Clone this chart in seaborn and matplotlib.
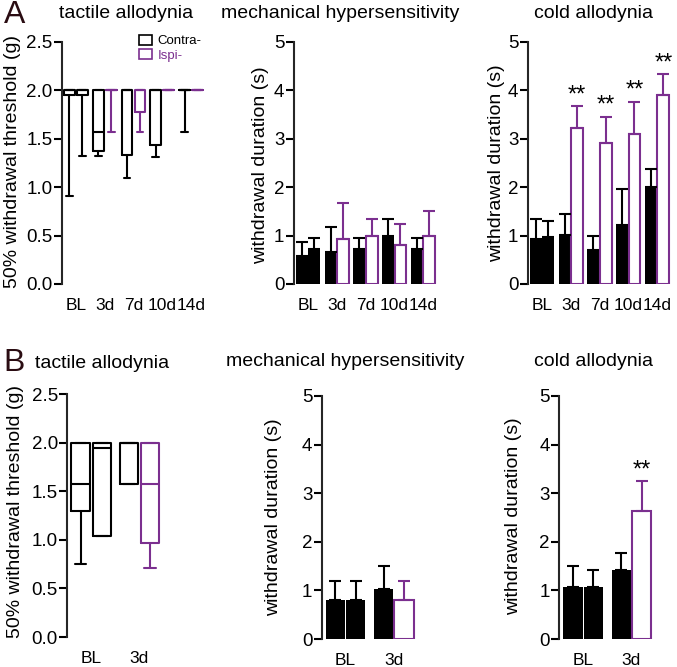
import matplotlib
matplotlib.use("Agg")
import matplotlib.pyplot as plt
import pandas as pd
import seaborn as sns
from matplotlib.patches import Patch

times_a = ["BL", "3d", "7d", "10d", "14d"]
times_b = ["BL", "3d"]
sides = ["Contra-", "Ispi-"]

# tactile allodynia, 50% withdrawal threshold (g): whisker low, Q1, median, Q3
tact_a_contra_lo = [0.91, 1.32, 1.10, 1.31, 1.57]
tact_a_contra_q1 = [1.95, 1.37, 1.33, 1.44, 2.00]
tact_a_contra_med = [2.00, 1.57, 2.00, 2.00, 2.00]
tact_a_contra_q3 = [2.00, 2.00, 2.00, 2.00, 2.00]
tact_a_ipsi_lo = [1.32, 1.57, 1.57, 2.00, 2.00]
tact_a_ipsi_q1 = [1.95, 2.00, 1.78, 2.00, 2.00]
tact_a_ipsi_med = [2.00, 2.00, 2.00, 2.00, 2.00]
tact_a_ipsi_q3 = [2.00, 2.00, 2.00, 2.00, 2.00]

tact_b_contra_lo = [0.75, 1.57]
tact_b_contra_q1 = [1.30, 1.57]
tact_b_contra_med = [1.57, 2.00]
tact_b_contra_q3 = [2.00, 2.00]
tact_b_ipsi_lo = [1.04, 0.71]
tact_b_ipsi_q1 = [1.04, 0.97]
tact_b_ipsi_med = [1.94, 1.57]
tact_b_ipsi_q3 = [2.00, 2.00]

# withdrawal duration (s): mean and SEM
mech_a_contra = [0.58, 0.67, 0.72, 1.00, 0.72]
mech_a_contra_sem = [0.29, 0.50, 0.24, 0.35, 0.24]
mech_a_ipsi = [0.72, 0.94, 1.00, 0.80, 1.00]
mech_a_ipsi_sem = [0.24, 0.74, 0.35, 0.45, 0.51]

cold_a_contra = [0.93, 1.02, 0.71, 1.22, 2.01]
cold_a_contra_sem = [0.41, 0.42, 0.28, 0.74, 0.36]
cold_a_ipsi = [0.97, 3.23, 2.91, 3.10, 3.91]
cold_a_ipsi_sem = [0.34, 0.44, 0.54, 0.66, 0.42]
cold_a_stars = ["", "**", "**", "**", "**"]

mech_b_contra = [0.80, 1.02]
mech_b_contra_sem = [0.39, 0.48]
mech_b_ipsi = [0.80, 0.80]
mech_b_ipsi_sem = [0.39, 0.39]

cold_b_contra = [1.08, 1.43]
cold_b_contra_sem = [0.42, 0.33]
cold_b_ipsi = [1.08, 2.63]
cold_b_ipsi_sem = [0.33, 0.62]
cold_b_stars = ["", "**"]

BLACK = "#000000"
PURPLE = "#7b2f8f"
LW = 1.5
W, H = 677, 667

sns.set_style("ticks")
plt.rcParams["font.family"] = ["Liberation Sans", "DejaVu Sans"]
plt.rcParams["text.color"] = "black"
plt.rcParams["axes.labelcolor"] = "black"
plt.rcParams["xtick.color"] = "black"
plt.rcParams["ytick.color"] = "black"


def rect(left, top, right, bottom):
    return [left / W, 1 - bottom / H, (right - left) / W, (bottom - top) / H]


def style_axis(ax, times, ymax, step, fmt):
    ax.set_xlim(-0.5, len(times) - 0.5)
    ax.set_ylim(0, ymax)
    ax.set_xticks(range(len(times)))
    ax.set_xticklabels(times)
    ticks = [i * step for i in range(int(round(ymax / step)) + 1)]
    ax.set_yticks(ticks)
    ax.set_yticklabels([fmt.format(t) for t in ticks])
    for s in ["top", "right", "bottom"]:
        ax.spines[s].set_visible(False)
    ax.spines["left"].set_linewidth(LW)
    ax.tick_params(axis="x", length=0, pad=10, labelsize=12.5)
    ax.tick_params(axis="y", length=5.5, width=LW, pad=1, labelsize=13.5)
    ax.set_xlabel("")
    ax.set_ylabel("")


def draw_boxes(ax, times, contra, ipsi, offset, width):
    for side_i, (lo, q1, med, q3) in enumerate([contra, ipsi]):
        for i, t in enumerate(times):
            color = BLACK if side_i == 0 or t == "BL" else PURPLE
            stats = dict(whislo=lo[i], q1=q1[i], med=med[i], q3=q3[i], whishi=q3[i])
            pos = i + (offset if side_i else -offset)
            line = dict(color=color, linewidth=LW)
            ax.bxp([stats], positions=[pos], widths=width, capwidths=0.24,
                   showfliers=False, manage_ticks=False, boxprops=line,
                   medianprops=line, whiskerprops=line, capprops=line)


def draw_bars(ax, times, contra, contra_sem, ipsi, ipsi_sem, width, stars=None):
    n = len(times)
    df = pd.DataFrame({
        "time": times * 2,
        "side": [sides[0]] * n + [sides[1]] * n,
        "value": contra + ipsi,
    })
    sns.barplot(data=df, x="time", y="value", hue="side", order=times,
                hue_order=sides, errorbar=None, width=width, gap=0.05,
                palette=[BLACK, PURPLE], saturation=1, legend=False, ax=ax)
    for side_i, (bars, vals, sems) in enumerate(
            zip(ax.containers, [contra, ipsi], [contra_sem, ipsi_sem])):
        for i, bar in enumerate(bars):
            open_bar = side_i == 1 and times[i] != "BL"
            color = PURPLE if open_bar else BLACK
            if open_bar:
                bar.set_facecolor("white")
                bar.set_edgecolor(PURPLE)
                bar.set_linewidth(LW)
            else:
                bar.set_facecolor(BLACK)
                bar.set_edgecolor("none")
            x = bar.get_x() + bar.get_width() / 2
            ax.errorbar(x, vals[i], yerr=[[0], [sems[i]]], fmt="none",
                        ecolor=color, elinewidth=LW, capsize=4, capthick=LW,
                        zorder=3)
            if stars and side_i == 1 and stars[i]:
                ax.annotate(stars[i], xy=(x, vals[i] + sems[i]), xytext=(0, 0),
                            textcoords="offset points", ha="center",
                            va="bottom", fontsize=17)


fig = plt.figure(figsize=(W / 100, H / 100), dpi=100)

ax_ta = fig.add_axes(rect(61.5, 42, 205.5, 284))
ax_ma = fig.add_axes(rect(293.5, 42, 437.5, 284))
ax_ca = fig.add_axes(rect(527.5, 42, 671.5, 284))
ax_tb = fig.add_axes(rect(67, 394, 163.6, 637))
ax_mb = fig.add_axes(rect(321.5, 396, 418, 639))
ax_cb = fig.add_axes(rect(559, 396, 655.5, 639))

draw_boxes(ax_ta, times_a,
           (tact_a_contra_lo, tact_a_contra_q1, tact_a_contra_med, tact_a_contra_q3),
           (tact_a_ipsi_lo, tact_a_ipsi_q1, tact_a_ipsi_med, tact_a_ipsi_q3),
           0.225, 0.38)
style_axis(ax_ta, times_a, 2.5, 0.5, "{:.1f}")

draw_boxes(ax_tb, times_b,
           (tact_b_contra_lo, tact_b_contra_q1, tact_b_contra_med, tact_b_contra_q3),
           (tact_b_ipsi_lo, tact_b_ipsi_q1, tact_b_ipsi_med, tact_b_ipsi_q3),
           0.22, 0.38)
style_axis(ax_tb, times_b, 2.5, 0.5, "{:.1f}")

draw_bars(ax_ma, times_a, mech_a_contra, mech_a_contra_sem, mech_a_ipsi, mech_a_ipsi_sem, 0.86)
style_axis(ax_ma, times_a, 5, 1, "{:.0f}")
draw_bars(ax_ca, times_a, cold_a_contra, cold_a_contra_sem, cold_a_ipsi, cold_a_ipsi_sem, 0.86, cold_a_stars)
style_axis(ax_ca, times_a, 5, 1, "{:.0f}")
draw_bars(ax_mb, times_b, mech_b_contra, mech_b_contra_sem, mech_b_ipsi, mech_b_ipsi_sem, 0.84)
style_axis(ax_mb, times_b, 5, 1, "{:.0f}")
draw_bars(ax_cb, times_b, cold_b_contra, cold_b_contra_sem, cold_b_ipsi, cold_b_ipsi_sem, 0.84, cold_b_stars)
style_axis(ax_cb, times_b, 5, 1, "{:.0f}")

handles = [Patch(facecolor="white", edgecolor=BLACK, linewidth=1.2),
           Patch(facecolor="white", edgecolor=PURPLE, linewidth=1.2)]
leg = ax_ta.legend(handles, sides, loc="upper left", bbox_to_anchor=(0.54, 1.03),
                   frameon=False, fontsize=9.5, handlelength=1.0, handleheight=0.8,
                   handletextpad=0.4, labelspacing=0.15, borderpad=0, borderaxespad=0)
leg.get_texts()[0].set_color(BLACK)
leg.get_texts()[1].set_color(PURPLE)


def ftext(x, y, s, **kw):
    fig.text(x / W, 1 - y / H, s, ha="center", va="center", **kw)


ftext(15, 15, "A", fontsize=23, color="#2a0c12")
ftext(14, 363, "B", fontsize=23, color="#2a0c12")

ftext(126, 13, "tactile allodynia", fontsize=14)
ftext(340, 13, "mechanical hypersensitivity", fontsize=14)
ftext(593, 13, "cold allodynia", fontsize=14)
ftext(102, 363, "tactile allodynia", fontsize=14)
ftext(345, 362, "mechanical hypersensitivity", fontsize=14)
ftext(594, 362, "cold allodynia", fontsize=14)

ftext(13, 162, "50% withdrawal threshold (g)", fontsize=14, rotation=90)
ftext(261, 165, "withdrawal duration (s)", fontsize=14, rotation=90)
ftext(497, 163, "withdrawal duration (s)", fontsize=14, rotation=90)
ftext(16, 512, "50% withdrawal threshold (g)", fontsize=14, rotation=90)
ftext(274, 517, "withdrawal duration (s)", fontsize=14, rotation=90)
ftext(514, 516, "withdrawal duration (s)", fontsize=14, rotation=90)

fig.savefig("out.png", dpi=100)
